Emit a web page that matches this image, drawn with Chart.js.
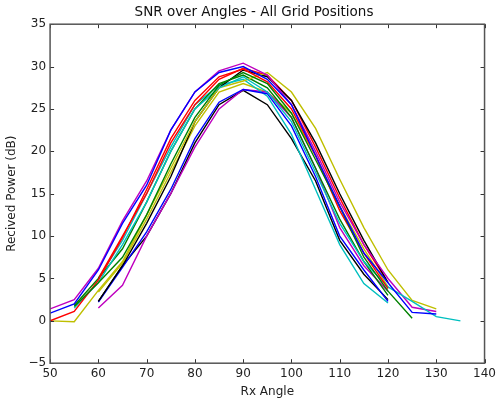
<!DOCTYPE html>
<html>
<head>
<meta charset="utf-8">
<script src="https://cdn.jsdelivr.net/npm/chart.js@4/dist/chart.umd.min.js"></script>
<style>
  html, body { margin: 0; padding: 0; background: #fff; }
  #wrap { width: 499px; height: 401px; }
</style>
</head>
<body>
<div id="wrap"><canvas id="snrChart" width="499" height="401"></canvas></div>
<script>
// Rx angles (degrees), one value per angle in every series (null = not measured)
const angles = [50, 55, 60, 65, 70, 75, 80, 85, 90, 95, 100, 105, 110, 115, 120, 125, 130, 135];

const pos01 = [0.9, 2.0, 6.0, 11.5, 16.0, 22.5, 27.0, 29.3, 30.0, 28.5, 25.5, 19.5, 13.5, 8.0, 4.5, 1.0, 0.8, null];
const pos02 = [null, 1.7, 4.5, 7.5, 12.5, 18.5, 24.0, 27.8, 29.3, 28.0, 24.5, 19.0, 13.5, 7.5, 3.5, 0.3, null, null];
const pos03 = [0.0, 1.1, 4.8, 9.8, 15.5, 21.5, 26.0, 28.8, 29.7, 28.2, 25.0, 19.5, 13.0, 8.0, 3.8, null, null, null];
const pos04 = [null, 1.5, 4.5, 9.0, 14.0, 20.0, 25.0, 27.5, 28.8, 27.0, 23.5, 17.5, 11.5, 7.0, 4.0, 2.3, 0.5, 0.0];
const pos05 = [1.4, 2.5, 6.2, 11.8, 16.5, 22.5, 27.0, 29.5, 30.4, 29.0, 25.5, 20.0, 14.0, 9.0, 5.0, 1.6, 1.1, null];
const pos06 = [0.0, -0.1, 3.6, 7.0, 12.5, 18.0, 23.5, 27.5, 28.3, 29.3, 27.0, 22.7, 16.7, 11.0, 6.0, 2.4, 1.4, null];
const pos07 = [null, null, 2.3, 6.5, 11.5, 17.0, 23.5, 27.5, 29.6, 28.8, 26.0, 21.0, 15.0, 9.5, 4.5, null, null, null];
const pos08 = [null, null, 2.2, 6.3, 10.5, 15.5, 21.5, 25.8, 27.3, 26.8, 23.0, 17.0, 10.0, 6.0, 2.3, null, null, null];
const pos09 = [null, 1.8, 5.0, 8.5, 14.0, 20.0, 25.0, 28.0, 29.0, 27.5, 24.0, 18.0, 12.0, 7.0, 3.0, null, null, null];
const pos10 = [null, null, 5.0, 10.0, 15.0, 21.0, 25.5, 28.5, 29.8, 29.0, 26.0, 20.5, 14.5, 9.0, 4.5, null, null, null];
const pos11 = [null, null, 5.0, 9.5, 15.0, 20.5, 25.5, 27.8, 28.5, 26.5, 22.0, 15.5, 9.0, 4.4, 2.1, null, null, null];
const pos12 = [null, null, 1.5, 4.2, 10.0, 15.0, 20.5, 25.0, 27.3, 27.0, 24.0, 18.0, 11.0, 6.5, 3.5, null, null, null];
const pos13 = [null, null, 3.4, 6.8, 12.0, 17.5, 23.0, 27.0, 28.0, 27.0, 24.5, 19.5, 13.5, 8.5, 4.0, null, null, null];
const pos14 = [null, null, 2.3, 6.5, 10.0, 15.0, 21.0, 25.5, 27.2, 25.5, 21.5, 16.5, 9.5, 5.5, 2.5, null, null, null];

const allSeries = [pos01, pos02, pos03, pos04, pos05, pos06, pos07,
                   pos08, pos09, pos10, pos11, pos12, pos13, pos14];
const lineColors = ["#0000ff", "#008000", "#ff0000", "#00bfbf", "#bf00bf", "#bfbf00", "#000000"];

const xTicks = [50, 60, 70, 80, 90, 100, 110, 120, 130, 140];
const yTicks = [-5, 0, 5, 10, 15, 20, 25, 30, 35];

const datasets = allSeries.map((vals, i) => ({
  label: "Position " + (i + 1),
  data: angles.map((a, j) => ({ x: a, y: vals[j] })).filter(p => p.y !== null),
  borderColor: lineColors[i % lineColors.length],
  borderWidth: 1.4,
  pointRadius: 0,
  fill: false,
  tension: 0
}));

// matplotlib style: box around axes, ticks pointing inward on all four sides
const boxTicks = {
  id: "boxTicks",
  afterDraw(chart) {
    const { ctx, chartArea: a, scales } = chart;
    ctx.save();
    ctx.strokeStyle = "#333";
    ctx.lineWidth = 1;
    xTicks.forEach(v => {
      const px = Math.round(scales.x.getPixelForValue(v)) + 0.5;
      ctx.beginPath();
      ctx.moveTo(px, a.bottom); ctx.lineTo(px, a.bottom - 4);
      ctx.moveTo(px, a.top); ctx.lineTo(px, a.top + 4);
      ctx.stroke();
    });
    yTicks.forEach(v => {
      const py = Math.round(scales.y.getPixelForValue(v)) + 0.5;
      ctx.beginPath();
      ctx.moveTo(a.left, py); ctx.lineTo(a.left + 4, py);
      ctx.moveTo(a.right, py); ctx.lineTo(a.right - 4, py);
      ctx.stroke();
    });
    ctx.strokeStyle = "#555";
    ctx.lineWidth = 1.5;
    ctx.strokeRect(a.left, a.top, a.right - a.left, a.bottom - a.top);
    ctx.restore();
  }
};

new Chart(document.getElementById("snrChart"), {
  type: "line",
  data: { datasets },
  options: {
    responsive: false,
    animation: false,
    layout: { padding: { left: 5, right: -4, top: 1, bottom: 2 } },
    plugins: {
      legend: { display: false },
      tooltip: { enabled: false },
      title: {
        display: true,
        text: "SNR over Angles - All Grid Positions",
        color: "#111",
        font: { family: "DejaVu Sans", size: 13.5, weight: "normal" },
        padding: { top: 3, bottom: 4 }
      }
    },
    scales: {
      x: {
        type: "linear",
        min: 50, max: 140,
        afterBuildTicks: s => { s.ticks = xTicks.map(v => ({ value: v })); },
        grid: { display: false, drawTicks: false },
        border: { display: false },
        ticks: { color: "#222", font: { family: "DejaVu Sans", size: 12 }, padding: 3, maxRotation: 0 },
        title: { display: true, text: "Rx Angle", color: "#222", font: { family: "DejaVu Sans", size: 12 }, padding: { top: 1, bottom: 0 } }
      },
      y: {
        type: "linear",
        min: -5, max: 35,
        afterBuildTicks: s => { s.ticks = yTicks.map(v => ({ value: v })); },
        grid: { display: false, drawTicks: false },
        border: { display: false },
        ticks: {
          color: "#222", font: { family: "DejaVu Sans", size: 12 }, padding: 4,
          callback: v => (v < 0 ? "\u2212" + Math.abs(v) : v)
        },
        title: { display: true, text: "Recived Power (dB)", color: "#222", font: { family: "DejaVu Sans", size: 12 }, padding: { top: 0, bottom: 5 } }
      }
    }
  },
  plugins: [boxTicks]
});
</script>
</body>
</html>
